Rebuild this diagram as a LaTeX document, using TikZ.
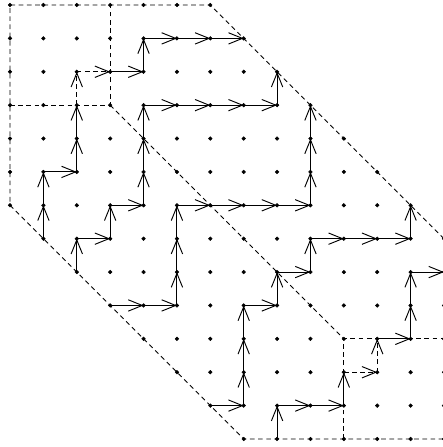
\documentclass[tikz,border=0pt]{standalone}
\usetikzlibrary{arrows.meta}

\tikzset{
	bdry/.style={line width=.7pt, dash pattern=on 4pt off 3pt},
	walk/.style={line width=.8pt, -{Straight Barb[length=4.2mm, width=3.4mm]}},
	hop/.style={walk, dash pattern=on 4pt off 3pt}
}

\begin{document}
\begin{tikzpicture}
				\useasboundingbox (-0.3,-0.24) rectangle (12.96,13.15);
				\foreach \i in {0,...,13}
					\foreach \j in {0,...,13}
						{\node[shape=coordinate] (g-\i-\j) at (\i,\j) {};}
				\foreach \i in {0,...,13}
					\foreach \j in {0,...,13}{
						\pgfmathtruncatemacro{\s}{\i+\j}
						\ifnum\s>6 \ifnum\s<20 \filldraw (g-\i-\j) circle (.055); \fi\fi
					}
				\begin{scope}[bdry]
					\draw (g-13-6) -- (g-6-13) -- (g-0-13) -- (g-0-7) -- (g-7-0) -- (g-13-0);
					\draw (g-3-10) -- (g-10-3);
					\draw (g-0-10) -- (g-3-10) -- (g-3-13);
					\draw (g-10-0) -- (g-10-3) -- (g-13-3);
				\end{scope}
				\foreach \p [remember=\p as \q (initially 1-6)] in {1-7,1-8,2-8,2-9,2-10}
					\draw[walk] (g-\q) -- (g-\p);
				\draw[hop] (g-2-10) -- (g-2-11);
				\draw[hop] (g-2-11) -- (g-3-11);
				\foreach \p [remember=\p as \q (initially 3-11)] in {4-11,4-12,5-12,6-12,7-12}
					\draw[walk] (g-\q) -- (g-\p);
				\foreach \p [remember=\p as \q (initially 2-5)] in {2-6,3-6,3-7,4-7,4-8,4-9,4-10,5-10,6-10,7-10,8-10,8-11}
					\draw[walk] (g-\q) -- (g-\p);
				\foreach \p [remember=\p as \q (initially 3-4)] in {4-4,5-4,5-5,5-6,5-7,6-7,7-7,8-7,9-7,9-8,9-9,9-10}
					\draw[walk] (g-\q) -- (g-\p);
				\foreach \p [remember=\p as \q (initially 6-1)] in {7-1,7-2,7-3,7-4,8-4,8-5,9-5,9-6,10-6,11-6,12-6,12-7}
					\draw[walk] (g-\q) -- (g-\p);
				\foreach \p [remember=\p as \q (initially 8-0)] in {8-1,9-1,10-1,10-2}
					\draw[walk] (g-\q) -- (g-\p);
				\draw[hop] (g-10-2) -- (g-11-2);
				\draw[hop] (g-11-2) -- (g-11-3);
				\foreach \p [remember=\p as \q (initially 11-3)] in {12-3,12-4,12-5,13-5}
					\draw[walk] (g-\q) -- (g-\p);
			\end{tikzpicture}
\end{document}
